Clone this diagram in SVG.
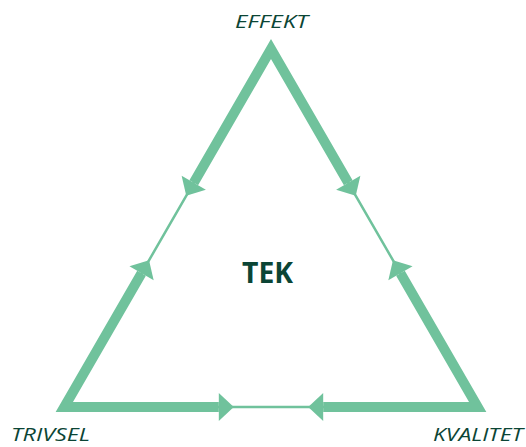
<svg xmlns="http://www.w3.org/2000/svg" width="526" height="447" viewBox="0 0 526 447">
<style>
.thin{fill:none;stroke:#70c29c;stroke-width:2.5}
.thick{fill:none;stroke:#70c29c;stroke-width:10;stroke-linejoin:miter;stroke-miterlimit:10;stroke-linecap:butt}
.head{fill:#70c29c;stroke:none}
.lbl{font-family:"Open Sans","Liberation Sans",sans-serif;font-style:italic;font-size:19px;fill:#0b4535}
.ttl{font-family:"Open Sans","Liberation Sans",sans-serif;font-weight:bold;font-size:28px;fill:#0b4535}
</style>
<rect width="526" height="447" fill="#ffffff"/>
<g id="connectors">
<path class="thin" d="M64.3,407 L271,49 L477.7,407 Z"/>
<path class="thick" d="M193.75,182.8 L271,49 L348.25,182.8"/>
<path class="thick" d="M141.55,273.2 L64.3,407 L218.8,407"/>
<path class="thick" d="M323.2,407 L477.7,407 L400.45,273.2"/>
<polygon class="head" points="233.8,407 218.8,393 218.8,421"/>
<polygon class="head" points="308.2,407 323.2,393 323.2,421"/>
<polygon class="head" points="149.05,260.2 153.67,280.2 129.43,266.2"/>
<polygon class="head" points="186.25,195.8 205.87,189.8 181.63,175.8"/>
<polygon class="head" points="355.75,195.8 360.37,175.8 336.13,189.8"/>
<polygon class="head" points="392.95,260.2 412.57,266.2 388.33,280.2"/>
</g>
<g id="effekt"><text class="lbl" x="271.5" y="28" text-anchor="middle" textLength="73" lengthAdjust="spacingAndGlyphs">EFFEKT</text></g>
<g id="trivsel"><text class="lbl" x="11" y="441" textLength="79" lengthAdjust="spacingAndGlyphs">TRIVSEL</text></g>
<g id="kvalitet"><text class="lbl" x="433" y="441" textLength="90" lengthAdjust="spacingAndGlyphs">KVALITET</text></g>
<g id="tek"><text class="ttl" x="242" y="283" textLength="51" lengthAdjust="spacingAndGlyphs">TEK</text></g>
</svg>
